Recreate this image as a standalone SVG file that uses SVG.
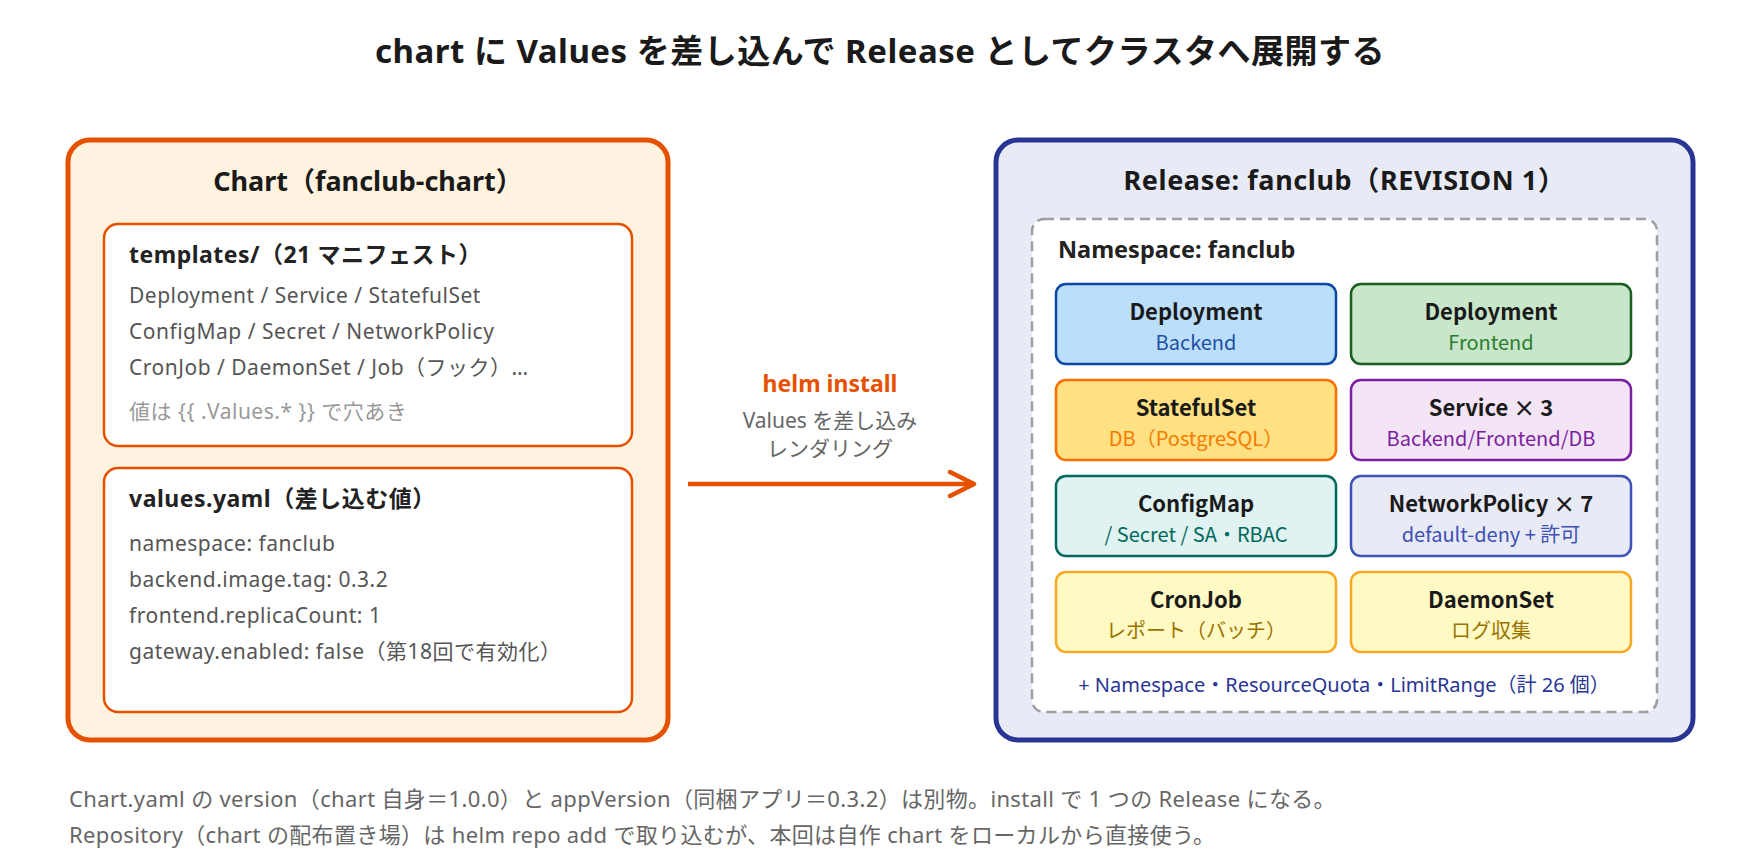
<svg xmlns="http://www.w3.org/2000/svg" width="1760" height="860" viewBox="0 0 1760 860">
<defs>
<style>
text{font-family:"Noto Sans","Noto Sans CJK JP",sans-serif;}
.title{font-size:33px;font-weight:700;fill:#1a1a1a;text-anchor:middle;letter-spacing:0.5px;}
.h1{font-size:27px;font-weight:700;fill:#1a1a1a;text-anchor:middle;}
.h2{font-size:23px;font-weight:700;fill:#222;letter-spacing:0.5px;}
.body{font-size:21px;fill:#555;letter-spacing:0.5px;}
.faint{font-size:21px;fill:#999;letter-spacing:0.5px;}
.nt{font-family:"Noto Sans CJK JP",sans-serif;font-size:22px;font-weight:700;fill:#1a1a1a;text-anchor:middle;}
.ns{font-family:"Noto Sans CJK JP",sans-serif;font-size:20px;text-anchor:middle;}
.note{font-size:22px;fill:#666;letter-spacing:0.35px;}
.node{stroke-width:2.5;}
</style>
<marker id="arr" viewBox="0 0 30 30" refX="27" refY="15" markerWidth="30" markerHeight="30" markerUnits="userSpaceOnUse" orient="auto">
<path d="M3 3 L27 15 L3 27" fill="none" stroke="#E65100" stroke-width="4.5" stroke-linecap="round" stroke-linejoin="round"/>
</marker>
</defs>
<rect width="1760" height="860" fill="#ffffff"/>
<text class="title" x="880" y="63">chart に Values を差し込んで Release としてクラスタへ展開する</text>

<g id="chart">
<rect x="68" y="140" width="600" height="600" rx="22" fill="#FFF3E0" stroke="#E65100" stroke-width="5"/>
<text class="h1" x="368" y="191">Chart（fanclub-chart）</text>
</g>
<g id="templates">
<rect x="104" y="224" width="528" height="222" rx="14" fill="#ffffff" stroke="#E65100" stroke-width="2.5"/>
<text class="h2" x="129" y="263">templates/（21 マニフェスト）</text>
<text class="body" x="129" y="303">Deployment / Service / StatefulSet</text>
<text class="body" x="129" y="339">ConfigMap / Secret / NetworkPolicy</text>
<text class="body" x="129" y="375">CronJob / DaemonSet / Job（フック）…</text>
<text class="faint" x="129" y="419">値は {{ .Values.* }} で穴あき</text>
</g>
<g id="values">
<rect x="104" y="468" width="528" height="244" rx="14" fill="#ffffff" stroke="#E65100" stroke-width="2.5"/>
<text class="h2" x="129" y="507" letter-spacing="1">values.yaml（差し込む値）</text>
<text class="body" x="129" y="551">namespace: fanclub</text>
<text class="body" x="129" y="587">backend.image.tag: 0.3.2</text>
<text class="body" x="129" y="623">frontend.replicaCount: 1</text>
<text class="body" x="129" y="659">gateway.enabled: false（第18回で有効化）</text>
</g>

<g id="connectors">
<line x1="688" y1="484" x2="974" y2="484" stroke="#E65100" stroke-width="4.5" marker-end="url(#arr)"/>
<text x="830" y="392" text-anchor="middle" font-size="23" font-weight="700" fill="#E65100">helm install</text>
<text x="830" y="428" text-anchor="middle" font-size="21" fill="#666">Values を差し込み</text>
<text x="830" y="456" text-anchor="middle" font-size="21" fill="#666">レンダリング</text>
</g>

<g id="release">
<rect x="996" y="140" width="697" height="600" rx="22" fill="#E8EAF6" stroke="#283593" stroke-width="5"/>
<text class="h1" x="1344.5" y="190" letter-spacing="0.6">Release: fanclub（REVISION 1）</text>
</g>
<g id="namespace">
<rect x="1032" y="219" width="625" height="493" rx="12" fill="#ffffff" stroke="#9E9E9E" stroke-width="2.5" stroke-dasharray="10 6"/>
<text x="1058" y="258" font-size="23.5" font-weight="700" fill="#222">Namespace: fanclub</text>
<text x="1344" y="692" text-anchor="middle" font-size="20" fill="#283593">+ Namespace・ResourceQuota・LimitRange（計 26 個）</text>
</g>

<g id="deploy-backend">
<rect class="node" x="1056" y="284" width="280" height="80" rx="10" fill="#BBDEFB" stroke="#0D47A1"/>
<text class="nt" x="1196" y="320">Deployment</text>
<text class="ns" x="1196" y="350" fill="#1E4FA3">Backend</text>
</g>
<g id="deploy-frontend">
<rect class="node" x="1351" y="284" width="280" height="80" rx="10" fill="#C8E6C9" stroke="#1B5E20"/>
<text class="nt" x="1491" y="320">Deployment</text>
<text class="ns" x="1491" y="350" fill="#2E7D32">Frontend</text>
</g>
<g id="statefulset">
<rect class="node" x="1056" y="380" width="280" height="80" rx="10" fill="#FFE082" stroke="#FF6F00"/>
<text class="nt" x="1196" y="416">StatefulSet</text>
<text class="ns" x="1196" y="446" fill="#F57C00">DB（PostgreSQL）</text>
</g>
<g id="service">
<rect class="node" x="1351" y="380" width="280" height="80" rx="10" fill="#F3E5F5" stroke="#7B1FA2"/>
<text class="nt" x="1491" y="416">Service × 3</text>
<text class="ns" x="1491" y="446" fill="#7B1FA2">Backend/Frontend/DB</text>
</g>
<g id="configmap">
<rect class="node" x="1056" y="476" width="280" height="80" rx="10" fill="#E0F2F1" stroke="#00695C"/>
<text class="nt" x="1196" y="512">ConfigMap</text>
<text class="ns" x="1196" y="542" fill="#00695C">/ Secret / SA・RBAC</text>
</g>
<g id="networkpolicy">
<rect class="node" x="1351" y="476" width="280" height="80" rx="10" fill="#E8EAF6" stroke="#3F51B5"/>
<text class="nt" x="1491" y="512">NetworkPolicy × 7</text>
<text class="ns" x="1491" y="542" fill="#3F51B5">default-deny + 許可</text>
</g>
<g id="cronjob">
<rect class="node" x="1056" y="572" width="280" height="80" rx="10" fill="#FFF9C4" stroke="#F9A825"/>
<text class="nt" x="1196" y="608">CronJob</text>
<text class="ns" x="1196" y="638" fill="#9A7400">レポート（バッチ）</text>
</g>
<g id="daemonset">
<rect class="node" x="1351" y="572" width="280" height="80" rx="10" fill="#FFF9C4" stroke="#F9A825"/>
<text class="nt" x="1491" y="608">DaemonSet</text>
<text class="ns" x="1491" y="638" fill="#9A7400">ログ収集</text>
</g>

<text class="note" x="69" y="807">Chart.yaml の version（chart 自身＝1.0.0）と appVersion（同梱アプリ＝0.3.2）は別物。install で 1 つの Release になる。</text>
<text class="note" x="69" y="843">Repository（chart の配布置き場）は helm repo add で取り込むが、本回は自作 chart をローカルから直接使う。</text>
</svg>
